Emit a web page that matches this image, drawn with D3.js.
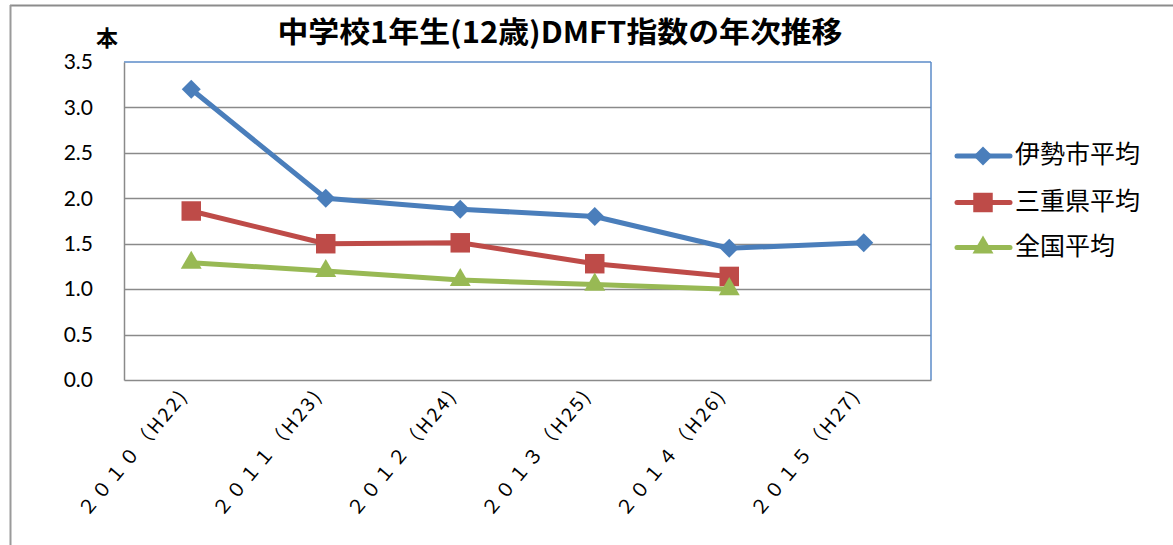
<!DOCTYPE html>
<html><head><meta charset="utf-8">
<script src="https://cdn.jsdelivr.net/npm/d3@7"></script>
<style>body{margin:0;background:#fff}svg{display:block}</style>
</head><body>
<svg id="c" width="1173" height="545"></svg>
<script>
const categories = ["２０１０（H22)","２０１１（H23)","２０１２（H24)","２０１３（H25)","２０１４（H26)","２０１５（H27)"];
const iseValues = [3.20, 2.00, 1.88, 1.80, 1.45, 1.51];
const mieValues = [1.86, 1.50, 1.51, 1.28, 1.14];
const nationalValues = [1.29, 1.20, 1.10, 1.05, 1.00];
const seriesNames = ["伊勢市平均","三重県平均","全国平均"];
const yTicks = [0,0.5,1.0,1.5,2.0,2.5,3.0,3.5];
const titleText = "中学校1年生(12歳)DMFT指数の年次推移";
const unitText = "本";

const svg = d3.select("#c");
const W = 1173, H = 545;
const cjk = "'Noto Sans CJK JP', sans-serif";
const num = "Lato, 'Liberation Sans', sans-serif";

// outer frame
svg.append("line").attr("x1",10).attr("x2",W).attr("y1",5.5).attr("y2",5.5).attr("stroke","#8c8c8c").attr("stroke-width",2);
svg.append("line").attr("x1",10.5).attr("x2",10.5).attr("y1",5).attr("y2",H).attr("stroke","#9a9a9a").attr("stroke-width",2);

const L = 124, R = 931, T = 62, B = 380;
const x = d3.scaleBand().domain(categories).range([L,R]);
const y = d3.scaleLinear().domain([0,3.5]).range([B,T]);

// gridlines
svg.append("g").selectAll("line").data(yTicks.filter(d=>d>0 && d<3.5)).join("line")
  .attr("x1",L).attr("x2",R).attr("y1",d=>Math.round(y(d))+0.5).attr("y2",d=>Math.round(y(d))+0.5)
  .attr("stroke","#8a8a8a").attr("stroke-width",1.5);
// plot border: top/right blue, left/bottom gray
svg.append("line").attr("x1",L).attr("x2",R).attr("y1",T).attr("y2",T).attr("stroke","#5b8bc9").attr("stroke-width",1.5);
svg.append("line").attr("x1",R).attr("x2",R).attr("y1",T).attr("y2",B).attr("stroke","#5b8bc9").attr("stroke-width",1.5);

// y axis
const yAxis = svg.append("g").attr("transform",`translate(${L},0)`)
  .call(d3.axisLeft(y).tickValues(yTicks).tickFormat(d3.format(".1f")).tickSize(0).tickPadding(31));
yAxis.select(".domain").attr("stroke","#8a8a8a").attr("stroke-width",1.5);
yAxis.selectAll("text").attr("font-family",num).attr("font-size",21).attr("fill","#000");
// x axis
const xAxis = svg.append("g").attr("transform",`translate(0,${B})`)
  .call(d3.axisBottom(x).tickSize(0).tickFormat(""));
xAxis.select(".domain").attr("stroke","#8a8a8a").attr("stroke-width",1.5);
svg.append("g").selectAll("text").data(categories).join("text")
  .attr("transform",d=>`translate(${x(d)+x.bandwidth()/2-2},${B+16}) rotate(-50)`)
  .attr("text-anchor","end").attr("font-family",cjk).attr("font-size",19).attr("fill","#000")
  .attr("letter-spacing","2.5px")
  .text(d=>d);

// title
svg.append("text").attr("x",560).attr("y",43).attr("text-anchor","middle")
  .attr("font-family",cjk).attr("font-weight","bold").attr("font-size",29)
  .attr("textLength",565).attr("lengthAdjust","spacingAndGlyphs").text(titleText);
svg.append("text").attr("x",107).attr("y",46).attr("text-anchor","middle")
  .attr("font-family",cjk).attr("font-weight","bold").attr("font-size",22).text(unitText);

const colors = ["#4a7ebb","#be4b48","#98b954"];
const allSeries = [iseValues, mieValues, nationalValues];
const cx = i => x(categories[i]) + x.bandwidth()/2;
const line = d3.line().x((d,i)=>cx(i)).y(d=>y(d));
const sym = [d3.symbolSquare, d3.symbolSquare, d3.symbolTriangle];
const symSize = [180, 380, 190];
const symRot = [45, 0, 0];

allSeries.forEach((vals,s)=>{
  svg.append("path").datum(vals).attr("d",line).attr("fill","none")
    .attr("stroke",colors[s]).attr("stroke-width",5).attr("stroke-linejoin","round").attr("stroke-linecap","round");
});
allSeries.forEach((vals,s)=>{
  svg.append("g").selectAll("path").data(vals).join("path")
    .attr("transform",(d,i)=>`translate(${cx(i)},${y(d)}) rotate(${symRot[s]})`)
    .attr("d",d3.symbol().type(sym[s]).size(symSize[s])).attr("fill",colors[s]);
});

// legend
const legY = [156, 202.5, 247.5];
seriesNames.forEach((n,s)=>{
  const g = svg.append("g");
  g.append("line").attr("x1",957).attr("x2",1010).attr("y1",legY[s]).attr("y2",legY[s])
    .attr("stroke",colors[s]).attr("stroke-width",5).attr("stroke-linecap","round");
  g.append("path").attr("transform",`translate(983,${legY[s]}) rotate(${symRot[s]})`)
    .attr("d",d3.symbol().type(sym[s]).size(symSize[s])).attr("fill",colors[s]);
  g.append("text").attr("x",1015).attr("y",legY[s]+7).attr("font-family",cjk)
    .attr("font-size",25).attr("fill","#000").text(n);
});
</script>
</body></html>
